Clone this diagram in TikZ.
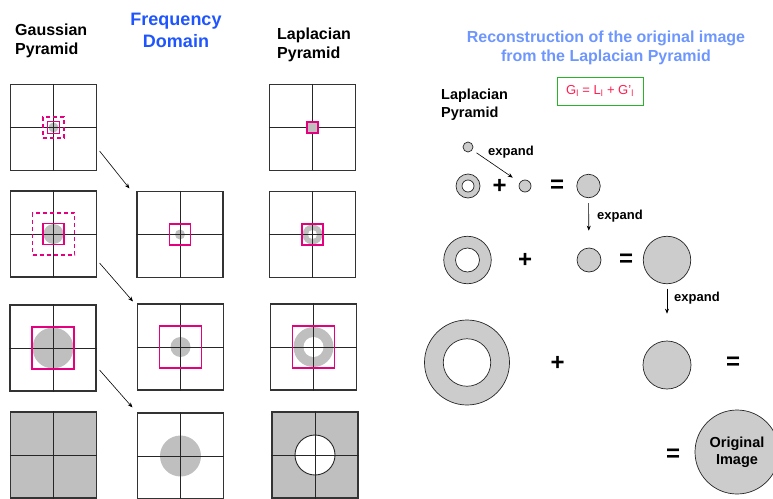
\documentclass[tikz,border=0pt]{standalone}
\usepackage{fontspec}
\setmainfont{Liberation Sans}
\usetikzlibrary{arrows.meta}
\definecolor{winpink}{RGB}{228,0,127}
\definecolor{freqblue}{RGB}{30,85,255}
\definecolor{recblue}{RGB}{110,150,255}
\definecolor{eqred}{RGB}{255,30,80}
\definecolor{boxgreen}{RGB}{40,180,40}
\tikzset{
  cell/.style ={draw=black!80, line width=1.1pt, minimum size=86pt, inner sep=0pt},
  blob/.style ={circle, fill=black!25, inner sep=0pt},
  gap/.style  ={circle, fill=white, inner sep=0pt},
  win/.style  ={draw=winpink, line width=1.1pt, inner sep=0pt},
  winx/.style ={win, dash pattern=on 4pt off 3pt},
  xline/.style={draw=black!85, line width=0.9pt},
  head/.style ={font=\fontsize{16}{19}\selectfont\bfseries, align=left,
                inner sep=0pt, anchor=north west},
  disc/.style ={circle, draw=black!85, fill=black!20, inner sep=0pt, line width=0.7pt},
  hole/.style ={circle, draw=black!85, fill=white, inner sep=0pt, line width=0.7pt},
  sym/.style  ={font=\fontsize{24}{24}\selectfont\bfseries, inner sep=0pt},
  lbl/.style  ={font=\fontsize{13}{15}\selectfont\bfseries, anchor=west, inner sep=0pt},
  fl/.style   ={-{Stealth[length=5pt,width=4pt]}, line width=0.6pt},
}

\begin{document}
\begin{tikzpicture}[x=1pt, y=-1pt]
  \useasboundingbox (0,0) rectangle (773,498);

  % column headings
  \node[head] (gh) at (15,24) {Gaussian\\Pyramid};
  \node[head, anchor=north, align=center, text=freqblue,
        font=\fontsize{18}{22}\selectfont\bfseries] (fh) at (176,13) {Frequency\\Domain};
  \node[head] (lh) at (277,28) {Laplacian\\Pyramid};

  % pyramid cells
  \node[cell] (g1) at (53.5,127.5) {};
  \node[cell] (g2) at (53.5,234) {};
  \node[cell] (g3) at (53,348) {};
  \node[cell, fill=black!25] (g4) at (53.5,455) {};
  \node[cell] (f2) at (180,234.5) {};
  \node[cell] (f3) at (180.5,347) {};
  \node[cell] (f4) at (180.5,456) {};
  \node[cell] (l1) at (312.5,127.5) {};
  \node[cell] (l2) at (312.5,234.5) {};
  \node[cell] (l3) at (313.5,347) {};
  \node[cell, fill=black!25] (l4) at (315,455) {};

  % spectra
  \node[blob, minimum size=10pt] (gb1) at (g1) {};
  \node[blob, minimum size=20pt] (gb2) at (g2) {};
  \node[blob, minimum size=41pt] (gb3) at (g3) {};
  \node[blob, minimum size=10pt] (fb2) at (f2) {};
  \node[blob, minimum size=20pt] (fb3) at (f3) {};
  \node[blob, minimum size=41pt] (fb4) at (f4) {};
  \node[blob, minimum size=20pt] (lb2) at (l2) {};
  \node[gap,  minimum size=9pt]  (lg2) at (l2) {};
  \node[blob, minimum size=40pt] (lb3) at (l3) {};
  \node[gap,  minimum size=20pt] (lg3) at (l3) {};
  \node[hole, minimum size=40pt, line width=0.9pt] (lg4) at (l4) {};

  \foreach \c in {g1,g2,g3,g4,f2,f3,f4,l1,l2,l3,l4}
    \draw[xline] (\c.north) -- (\c.south) (\c.west) -- (\c.east);

  % pass bands
  \node[win, minimum size=12pt] (gw1) at (g1) {};
  \node[winx, minimum size=21pt] (gx1) at (g1) {};
  \node[win, minimum size=21pt] (gw2) at (g2) {};
  \node[winx, minimum size=42pt] (gx2) at (g2) {};
  \node[win, minimum size=42pt] (gw3) at (g3) {};
  \node[win, minimum size=21pt] (fw2) at (f2) {};
  \node[win, minimum size=42pt] (fw3) at (f3) {};
  \node[win, fill=black!25, minimum size=11pt] (lw1) at (l1) {};
  \node[win, minimum size=21pt] (lw2) at (l2) {};
  \node[win, minimum size=42pt] (lw3) at (l3) {};

  \draw[fl] ([shift={(2.5,23.5)}]g1.east) -- ([shift={(-7,-2.5)}]f2.north west);
  \draw[fl] ([shift={(2.5,29)}]g2.east) -- ([shift={(-4,-2)}]f3.north west);
  \draw[fl] ([shift={(3,22)}]g3.east) -- ([shift={(-4.5,-5)}]f4.north west);

  % reconstruction
  \node[head, anchor=north, align=center, text=recblue] (rt) at (606,31)
        {Reconstruction of the original image\\from the Laplacian Pyramid};
  \node[head, font=\fontsize{14.5}{18}\selectfont\bfseries] (rl) at (441,89)
        {Laplacian\\Pyramid};
  \node[draw=boxgreen, line width=0.9pt, minimum width=86pt, minimum height=28pt,
        text=eqred, font=\fontsize{13}{14}\selectfont] (gl) at (600,91)
        {G\textsubscript{l} = L\textsubscript{l} + G'\textsubscript{l}};

  \node[disc, minimum size=10pt] (s0) at (468,147) {};
  \node[disc, minimum size=24pt] (r1) at (468,186) {};
  \node[hole, minimum size=12pt] (r1i) at (r1) {};
  \node[sym] (p1) at (499.5,186) {+};
  \node[disc, minimum size=12pt] (s1) at (525,186) {};
  \node[sym] (e1) at (557,186) {=};
  \node[disc, minimum size=23.5pt] (c1) at (588.5,186) {};
  \draw[fl, shorten <=5pt, shorten >=8.5pt] (s0) -- (s1);
  \node[lbl] (x1) at (488,152) {expand};

  \node[disc, minimum size=47.5pt] (r2) at (467.5,260) {};
  \node[hole, minimum size=24pt] (r2i) at (r2) {};
  \node[sym] (p2) at (525,260) {+};
  \node[disc, minimum size=24pt] (s2) at (589,260) {};
  \node[sym] (e2) at (626,260) {=};
  \node[disc, minimum size=47.5pt] (b2) at (667,260) {};
  \draw[fl, shorten <=5pt, shorten >=17pt] (c1) -- (s2);
  \node[lbl] (x2) at (597,216) {expand};

  \node[disc, minimum size=85pt] (r3) at (467,362.5) {};
  \node[hole, minimum size=47.5pt] (r3i) at (r3) {};
  \node[sym] (p3) at (557.5,363) {+};
  \node[disc, minimum size=48pt] (c3) at (667,365) {};
  \node[sym] (e3) at (733,363) {=};
  \draw[fl, shorten <=4.5pt, shorten >=27pt] (b2) -- (c3);
  \node[lbl] (x3) at (674,298) {expand};

  \node[sym] (e4) at (673,455) {=};
  \node[disc, minimum size=84pt, align=center,
        font=\fontsize{14.5}{17}\selectfont\bfseries] (orig) at (737,452) {Original\\Image};
\end{tikzpicture}
\end{document}
